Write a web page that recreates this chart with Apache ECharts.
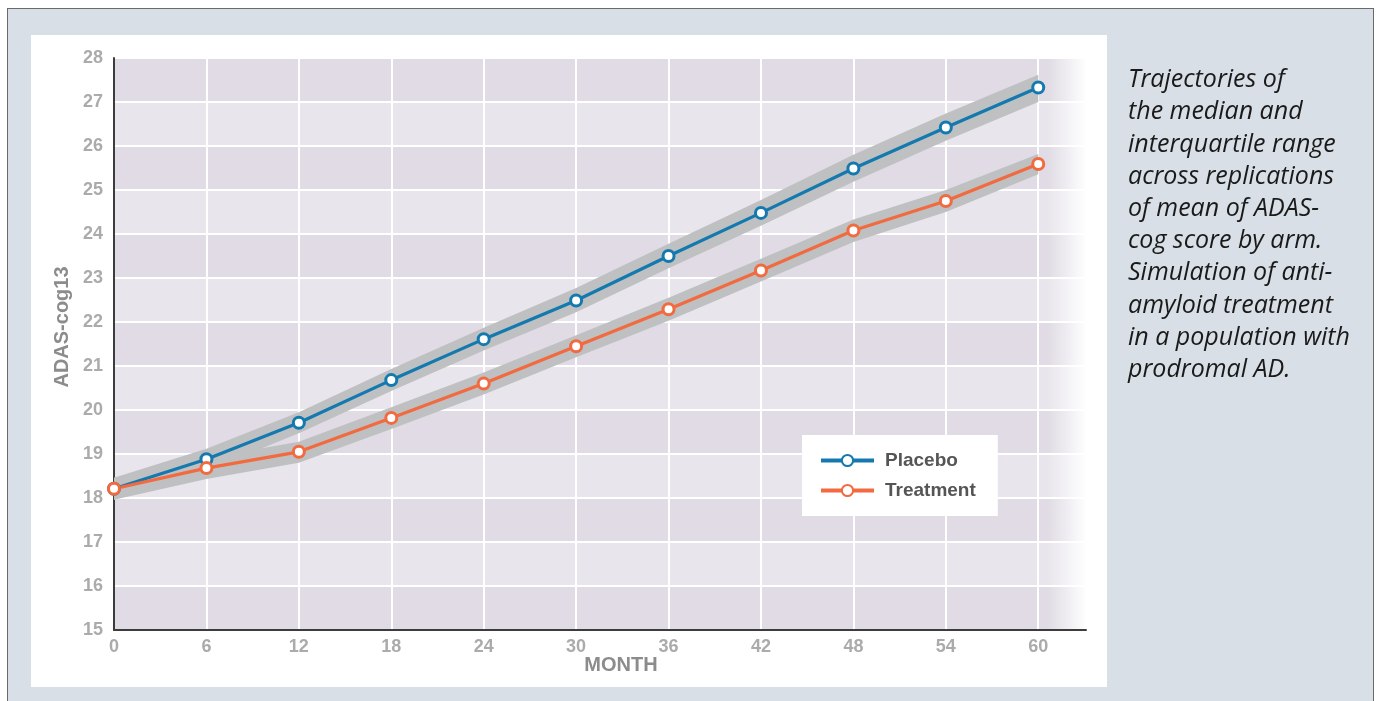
<!DOCTYPE html>
<html><head><meta charset="utf-8">
<script src="https://cdn.jsdelivr.net/npm/echarts@6/dist/echarts.min.js"></script>
<style>
html,body{margin:0;padding:0;background:#fff;width:1377px;height:701px;overflow:hidden}
#frame{position:absolute;left:7px;top:8px;width:1365px;height:710px;background:#d9dfe6;border:1px solid #6a6a6a}
#panel{position:absolute;left:31px;top:35px;width:1076px;height:652px;background:#fff}
#chart{position:absolute;left:0;top:0;width:1377px;height:701px}
</style></head><body>
<div id="frame"></div><div id="panel"></div><div id="chart"></div>
<script>
// ---- data ----
const months = [0, 6, 12, 18, 24, 30, 36, 42, 48, 54, 60];
const placebo = [18.21, 18.88, 19.71, 20.68, 21.61, 22.49, 23.50, 24.48, 25.49, 26.42, 27.33];
const placeboLow = [17.96, 18.62, 19.47, 20.43, 21.35, 22.22, 23.22, 24.19, 25.19, 26.12, 27.00];
const placeboHigh = [18.46, 19.12, 19.95, 20.93, 21.87, 22.77, 23.78, 24.77, 25.80, 26.74, 27.62];
const treatment = [18.21, 18.68, 19.05, 19.82, 20.60, 21.45, 22.29, 23.17, 24.08, 24.75, 25.59];
const treatmentLow = [17.96, 18.43, 18.80, 19.57, 20.35, 21.20, 22.03, 22.92, 23.82, 24.50, 25.36];
const treatmentHigh = [18.46, 18.91, 19.28, 20.06, 20.85, 21.70, 22.55, 23.44, 24.33, 25.00, 25.82];
const yTicks = [15, 16, 17, 18, 19, 20, 21, 22, 23, 24, 25, 26, 27, 28];
const seriesNames = ['Placebo', 'Treatment'];
const xAxisName = 'MONTH';
const yAxisName = 'ADAS-cog13';
const caption = ['Trajectories of', 'the median and', 'interquartile range', 'across replications',
  'of mean of ADAS-', 'cog score by arm.', 'Simulation of anti-', 'amyloid treatment',
  'in a population with', 'prodromal AD.'];

const BLUE = '#1479ae', ORANGE = '#f26a3f', BAND = '#bfc0c1';
const pair = (a) => months.map((m, i) => [m, a[i]]);

const bandSeries = (name, low, high) => ({
  name: name, type: 'custom', silent: true, z: 1, xAxisIndex: 0,
  data: months.map((m, i) => [m, low[i], high[i]]),
  encode: {x: 0, y: [1, 2]},
  renderItem: (params, api) => {
    if (params.dataIndex !== 0) return null;
    const top = months.map((m, i) => api.coord([m, high[i]]));
    const bot = months.map((m, i) => api.coord([m, low[i]])).reverse();
    return {type: 'polygon', shape: {points: top.concat(bot)}, style: {fill: BAND}};
  }
});
const mainLine = (name, arr, color) => ({
  name: name, type: 'line', data: pair(arr), symbol: 'circle', symbolSize: 11,
  color: color,
  lineStyle: {color: color, width: 3.2},
  itemStyle: {color: '#fff', borderColor: color, borderWidth: 3},
  z: 3, xAxisIndex: 0
});

const chart = echarts.init(document.getElementById('chart'), null, {renderer: 'canvas'});
chart.setOption({
  backgroundColor: 'transparent',
  animation: false,
  textStyle: {fontFamily: 'Liberation Sans'},
  grid: {left: 114, top: 58, right: 291, bottom: 71, containLabel: false},
  xAxis: [{
    type: 'value', min: 0, max: 63.1, interval: 6,
    name: xAxisName, nameLocation: 'middle', nameGap: 25, nameMoveOverlap: false,
    nameTextStyle: {fontSize: 20, fontWeight: 'bold', color: '#8c8c8c', padding: [0, 0, 0, 42]},
    axisLine: {show: false}, axisTick: {show: false},
    axisLabel: {fontSize: 18, fontWeight: 'bold', color: '#ababab', margin: 8,
      formatter: (v) => (v % 6 === 0 && v <= 60) ? String(v) : ''},
    splitLine: {show: true, lineStyle: {color: '#ffffff', width: 2}}
  }, {
    type: 'value', min: 0, max: 63.1, position: 'bottom', z: 10,
    axisLine: {show: true, lineStyle: {color: '#3c3c3c', width: 2}},
    axisTick: {show: false}, axisLabel: {show: false}, splitLine: {show: false}
  }],
  yAxis: {
    type: 'value', min: yTicks[0], max: yTicks[yTicks.length - 1], interval: 1,
    name: yAxisName, nameLocation: 'middle', nameGap: 42, nameRotate: 90, nameMoveOverlap: false,
    nameTextStyle: {fontSize: 20, fontWeight: 'bold', color: '#8c8c8c', padding: [0, 0, 0, 34]},
    axisLine: {show: true, lineStyle: {color: '#3c3c3c', width: 2}},
    axisTick: {show: false},
    axisLabel: {fontSize: 18, fontWeight: 'bold', color: '#ababab', margin: 11},
    splitLine: {show: true, lineStyle: {color: '#ffffff', width: 2}},
    splitArea: {show: true, areaStyle: {color: ['#e0dbe4', '#e8e5ec']}}
  },
  legend: {
    data: seriesNames, orient: 'vertical', left: 802, top: 435,
    backgroundColor: '#ffffff', padding: [16, 22, 16, 17],
    itemWidth: 53, itemHeight: 14, itemGap: 11,
    lineStyle: {width: 4},
    textStyle: {fontSize: 19, fontWeight: 'bold', color: '#555555', padding: [0, 0, 0, 6]}
  },
  graphic: [
    {type: 'rect', z: 5, silent: true,
      shape: {x: 1047, y: 57, width: 40, height: 572},
      style: {fill: {type: 'linear', x: 0, y: 0, x2: 1, y2: 0,
        colorStops: [{offset: 0, color: 'rgba(255,255,255,0)'}, {offset: 1, color: 'rgba(255,255,255,1)'}]}}},
    {type: 'text', left: 1128, top: 64, z: 5,
      style: {text: caption.join('\n'), font: 'italic 25px "Open Sans"', lineHeight: 32.2, fill: '#1a1a1a'}}
  ],
  series: [
    bandSeries('pBand', placeboLow, placeboHigh),
    bandSeries('tBand', treatmentLow, treatmentHigh),
    mainLine(seriesNames[0], placebo, BLUE),
    mainLine(seriesNames[1], treatment, ORANGE)
  ]
});
</script>
</body></html>
